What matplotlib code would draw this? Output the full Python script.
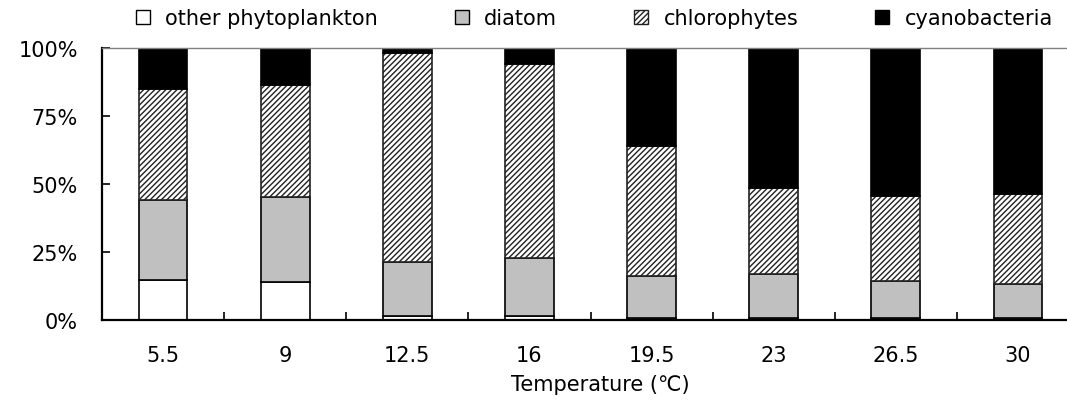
import matplotlib
matplotlib.use("Agg")
import matplotlib.pyplot as plt
import numpy as np
from matplotlib.patches import Patch

plt.rcParams['font.family'] = ['DejaVu Sans', 'Noto Sans CJK SC']
plt.rcParams['hatch.color'] = '#333333'
plt.rcParams['hatch.linewidth'] = 1.0

temps = ["5.5", "9", "12.5", "16", "19.5", "23", "26.5", "30"]
other = [14.7, 13.8, 1.4, 1.5, 0.7, 0.7, 0.6, 0.6]
diatom = [29.6, 31.4, 20.0, 21.2, 15.4, 16.2, 13.6, 12.7]
chloro = [40.7, 41.2, 76.8, 71.5, 48.0, 31.6, 31.3, 33.1]
cyano = [15.0, 13.6, 1.8, 5.8, 35.9, 51.5, 54.5, 53.6]
series_names = ["other phytoplankton", "diatom", "chlorophytes", "cyanobacteria"]
yticks = [0, 25, 50, 75, 100]

fig = plt.figure(figsize=(10.67, 4.02), dpi=100)
ax = fig.add_axes([0.0956, 0.2015, 0.9157, 0.6766])

x = np.arange(len(temps))
w = 0.40
lw = 1.2
b = np.zeros(len(temps))
ax.bar(x, other, w, bottom=b, facecolor='white', edgecolor='black', linewidth=lw)
b += np.array(other)
ax.bar(x, diatom, w, bottom=b, facecolor='#c0c0c0', edgecolor='black', linewidth=lw)
b += np.array(diatom)
ax.bar(x, chloro, w, bottom=b, facecolor='white', edgecolor='#222222', hatch='//////', linewidth=lw)
b += np.array(chloro)
ax.bar(x, cyano, w, bottom=b, facecolor='black', edgecolor='black', linewidth=lw)

ax.set_xlim(-0.5, 7.5)
ax.set_ylim(0, 100)
ax.set_yticks(yticks)
ax.set_yticklabels([f"{v}%" for v in yticks], fontsize=15)
ax.tick_params(axis='y', direction='in', length=6, width=1.2, pad=17.5)

ax.set_xticks(np.arange(-0.5, 7.6, 1.0))
ax.set_xticklabels([])
ax.tick_params(axis='x', which='major', direction='in', length=6, width=1.2)
ax.set_xticks(x, minor=True)
ax.set_xticklabels(temps, minor=True, fontsize=15)
ax.tick_params(axis='x', which='minor', length=0, pad=18)

ax.set_xlabel("Temperature (℃)", fontsize=15)
ax.xaxis.set_label_coords(0.51, -0.2)

for s in ['left', 'bottom']:
    ax.spines[s].set_linewidth(1.6)
    ax.spines[s].set_color('black')
ax.spines['top'].set_color('#808080')
ax.spines['top'].set_linewidth(1.0)
ax.spines['right'].set_visible(False)

handles = [
    Patch(facecolor='white', edgecolor='black', linewidth=1),
    Patch(facecolor='#c0c0c0', edgecolor='black', linewidth=1),
    Patch(facecolor='white', edgecolor='#222222', hatch='//////', linewidth=1),
    Patch(facecolor='black', edgecolor='black', linewidth=1),
]
fig.legend(handles, series_names, loc='center', bbox_to_anchor=(0.557, 0.953), ncol=4,
           frameon=False, fontsize=15, handlelength=0.65, handleheight=0.65,
           handletextpad=0.75, columnspacing=3.7, borderpad=0.0)

fig.savefig("out.png", dpi=100)
